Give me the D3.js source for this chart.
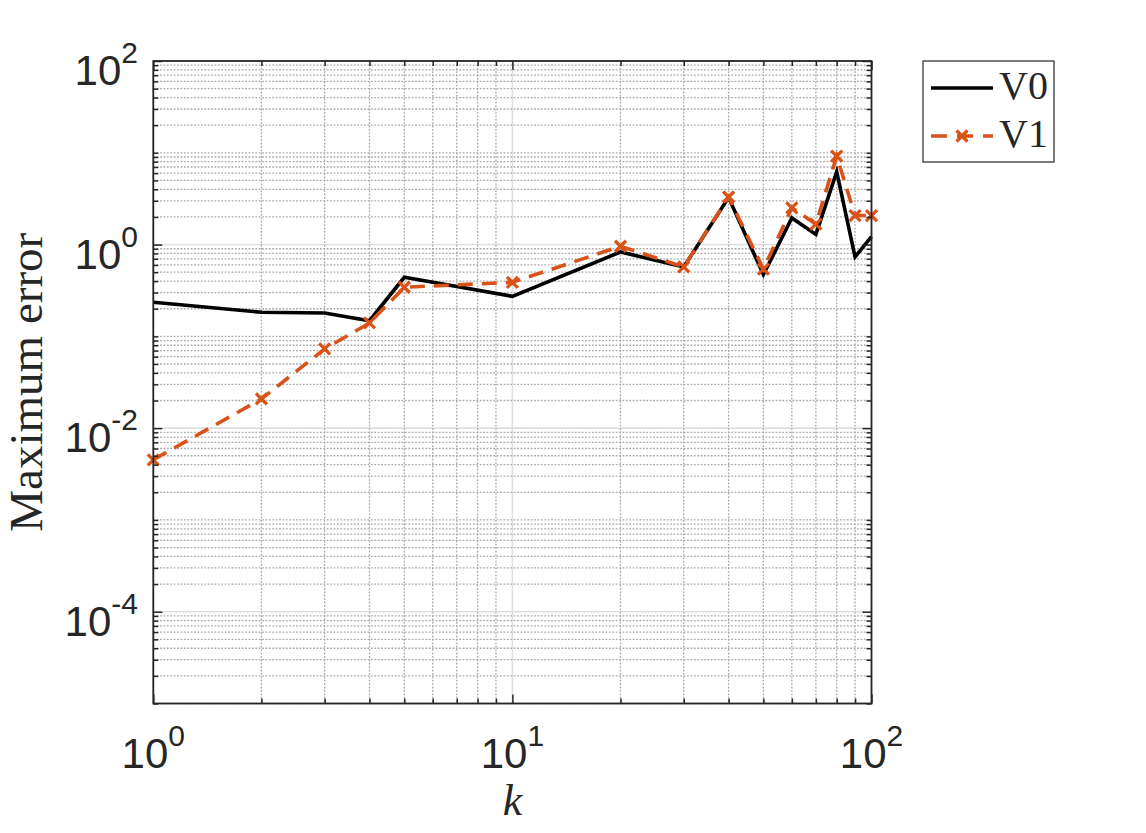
<!DOCTYPE html>
<html>
<head>
<meta charset="utf-8">
<script src="https://cdn.jsdelivr.net/npm/d3@7"></script>
<style>
  html, body { margin: 0; padding: 0; background: #fff; }
  svg { display: block; }
</style>
</head>
<body>
<svg id="chart" width="1146" height="833"></svg>
<script>
// ---- data ----
const kValues = [1, 2, 3, 4, 5, 10, 20, 30, 40, 50, 60, 70, 80, 90, 100];
const v0Values = [0.235, 0.183, 0.180, 0.148, 0.44, 0.273, 0.83, 0.571, 3.25, 0.47, 1.95, 1.29, 6.2, 0.734, 1.22];
const v1Values = [0.00452, 0.0208, 0.0729, 0.140, 0.343, 0.388, 0.958, 0.571, 3.3, 0.54, 2.51, 1.67, 9.2, 2.07, 2.07];
const seriesNames = ["V0", "V1"];
const xTickExponents = [0, 1, 2];
const yTickExponents = [2, 0, -2, -4];
const xLabel = "k";
const yLabel = "Maximum error";

// ---- layout ----
const svg = d3.select("#chart");
const L = 153.3, R = 871.5, T = 61, B = 703.5;
const x = d3.scaleLog().domain([1, 100]).range([L, R]);
const y = d3.scaleLog().domain([1e-5, 1e2]).range([B, T]);

const textColor = "#262626";
const orange = "#D95319";
const sansFont = "'Liberation Sans', Arial, Helvetica, sans-serif";
const serifFont = "'Liberation Serif', 'Times New Roman', serif";

const xMajor = xTickExponents.map(e => Math.pow(10, e));
const yMajor = yTickExponents.map(e => Math.pow(10, e));
const isMajor = (arr, v) => arr.some(m => Math.abs(Math.log10(m) - Math.log10(v)) < 1e-9);
const xAll = x.ticks();
const yAll = y.ticks();
const xMinor = xAll.filter(v => !isMajor(xMajor, v));
const yMinor = yAll.filter(v => !isMajor(yMajor, v));

// ---- grid ----
const grid = svg.append("g");
// major solid
grid.selectAll(".xmaj").data(xMajor).join("line")
  .attr("x1", d => x(d)).attr("x2", d => x(d)).attr("y1", T).attr("y2", B)
  .attr("stroke", "#dedede").attr("stroke-width", 1.6);
grid.selectAll(".ymaj").data(yMajor).join("line")
  .attr("y1", d => y(d)).attr("y2", d => y(d)).attr("x1", L).attr("x2", R)
  .attr("stroke", "#dedede").attr("stroke-width", 1.6);
// minor dotted
grid.selectAll(".xmin").data(xMinor).join("line")
  .attr("x1", d => x(d)).attr("x2", d => x(d)).attr("y1", T).attr("y2", B)
  .attr("stroke", "#a9a9a9").attr("stroke-width", 1.3).attr("stroke-dasharray", "1.8,1.6");
grid.selectAll(".ymin").data(yMinor).join("line")
  .attr("y1", d => y(d)).attr("y2", d => y(d)).attr("x1", L).attr("x2", R)
  .attr("stroke", "#a9a9a9").attr("stroke-width", 1.3).attr("stroke-dasharray", "1.8,1.6");

// ---- data lines ----
const pts0 = kValues.map((k, i) => [k, v0Values[i]]);
const pts1 = kValues.map((k, i) => [k, v1Values[i]]);
const line = d3.line().x(d => x(d[0])).y(d => y(d[1]));

svg.append("clipPath").attr("id", "clip")
  .append("rect").attr("x", L - 8).attr("y", T - 8).attr("width", R - L + 16).attr("height", B - T + 16);
const plot = svg.append("g").attr("clip-path", "url(#clip)");

plot.append("path").datum(pts0).attr("d", line)
  .attr("fill", "none").attr("stroke", "#000").attr("stroke-width", 3.6)
  .attr("stroke-linejoin", "miter");
plot.append("path").datum(pts1).attr("d", line)
  .attr("fill", "none").attr("stroke", orange).attr("stroke-width", 3.6)
  .attr("stroke-dasharray", "15,9");
const ms = 5.5;
const xMarker = `M${-ms},${-ms}L${ms},${ms}M${-ms},${ms}L${ms},${-ms}`;
plot.selectAll(".mk").data(pts1).join("path")
  .attr("d", xMarker)
  .attr("transform", d => `translate(${x(d[0])},${y(d[1])})`)
  .attr("stroke", orange).attr("stroke-width", 3.3).attr("fill", "none");

// ---- axes (ticks inward, mirrored) ----
function styleAxis(g) {
  g.select(".domain").remove();
  g.selectAll(".tick line").attr("stroke", textColor).attr("stroke-width", 1.5);
  g.selectAll(".tick text").remove();
}
const majLen = 9, minLen = 5;
svg.append("g").attr("transform", `translate(0,${B})`)
  .call(d3.axisBottom(x).tickValues(xMajor).tickSize(-majLen).tickFormat("")).call(styleAxis);
svg.append("g").attr("transform", `translate(0,${B})`)
  .call(d3.axisBottom(x).tickValues(xMinor).tickSize(-minLen).tickFormat("")).call(styleAxis);
svg.append("g").attr("transform", `translate(0,${T})`)
  .call(d3.axisTop(x).tickValues(xMajor).tickSize(-majLen).tickFormat("")).call(styleAxis);
svg.append("g").attr("transform", `translate(0,${T})`)
  .call(d3.axisTop(x).tickValues(xMinor).tickSize(-minLen).tickFormat("")).call(styleAxis);
svg.append("g").attr("transform", `translate(${L},0)`)
  .call(d3.axisLeft(y).tickValues(yMajor).tickSize(-majLen).tickFormat("")).call(styleAxis);
svg.append("g").attr("transform", `translate(${L},0)`)
  .call(d3.axisLeft(y).tickValues(yMinor).tickSize(-minLen).tickFormat("")).call(styleAxis);
svg.append("g").attr("transform", `translate(${R},0)`)
  .call(d3.axisRight(y).tickValues(yMajor).tickSize(-majLen).tickFormat("")).call(styleAxis);
svg.append("g").attr("transform", `translate(${R},0)`)
  .call(d3.axisRight(y).tickValues(yMinor).tickSize(-minLen).tickFormat("")).call(styleAxis);

svg.append("rect").attr("x", L).attr("y", T).attr("width", R - L).attr("height", B - T)
  .attr("fill", "none").attr("stroke", textColor).attr("stroke-width", 1.8);

// ---- tick labels ----
function powLabel(sel, exp) {
  sel.append("tspan").text("10").attr("font-size", 42);
  sel.append("tspan").text(String(exp)).attr("font-size", 30).attr("dy", -22);
}
xTickExponents.forEach(e => {
  const t = svg.append("text")
    .attr("x", x(Math.pow(10, e))).attr("y", 768)
    .attr("text-anchor", "middle").attr("fill", textColor)
    .attr("font-family", sansFont);
  powLabel(t, e);
});
yTickExponents.forEach(e => {
  const t = svg.append("text")
    .attr("x", 138).attr("y", y(Math.pow(10, e)) + 24)
    .attr("text-anchor", "end").attr("fill", textColor)
    .attr("font-family", sansFont);
  powLabel(t, e);
});

// ---- axis labels ----
svg.append("text").text(xLabel)
  .attr("x", (L + R) / 2).attr("y", 815).attr("text-anchor", "middle")
  .attr("font-family", serifFont).attr("font-style", "italic").attr("font-size", 44)
  .attr("fill", textColor);
svg.append("text").text(yLabel)
  .attr("transform", `translate(42,${(T + B) / 2}) rotate(-90)`)
  .attr("text-anchor", "middle")
  .attr("font-family", serifFont).attr("font-size", 47)
  .attr("fill", textColor);

// ---- legend ----
const lg = svg.append("g");
lg.append("rect").attr("x", 923).attr("y", 61).attr("width", 131).attr("height", 101)
  .attr("fill", "#fff").attr("stroke", textColor).attr("stroke-width", 1.2);
const legendRows = [
  { name: seriesNames[0], y: 88, color: "#000", dash: null, marker: false },
  { name: seriesNames[1], y: 136, color: orange, dash: "16,10", marker: true }
];
legendRows.forEach(r => {
  const ln = lg.append("line").attr("x1", 931).attr("x2", 993).attr("y1", r.y).attr("y2", r.y)
    .attr("stroke", r.color).attr("stroke-width", 3.6);
  if (r.dash) ln.attr("stroke-dasharray", r.dash);
  if (r.marker) {
    lg.append("path").attr("d", xMarker).attr("transform", `translate(962,${r.y})`)
      .attr("stroke", r.color).attr("stroke-width", 3.3).attr("fill", "none");
  }
  lg.append("text").text(r.name).attr("x", 999).attr("y", r.y + 11)
    .attr("font-family", serifFont).attr("font-size", 40).attr("fill", textColor);
});
</script>
</body>
</html>
